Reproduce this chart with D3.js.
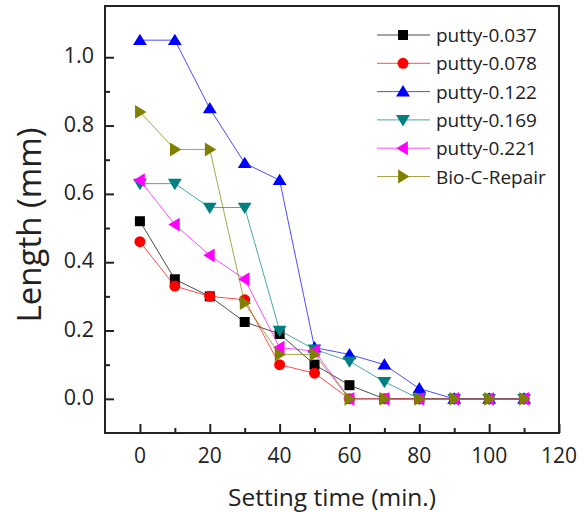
<!DOCTYPE html>
<html>
<head>
<meta charset="utf-8">
<script src="https://cdn.jsdelivr.net/npm/d3@7"></script>
<style>
  body { margin: 0; background: #fff; }
  text { font-family: "Open Sans", sans-serif; fill: #222; }
</style>
</head>
<body>
<div id="myChart"></div>
<script>
// setting time (min.)
var times = [0, 10, 20, 30, 40, 50, 60, 70, 80, 90, 100, 110];

// length (mm) per series
var putty037 = [0.52, 0.35, 0.30, 0.225, 0.19, 0.10, 0.04, 0, 0, 0, 0, 0];
var putty078 = [0.46, 0.33, 0.30, 0.29, 0.10, 0.075, 0, 0, 0, 0, 0, 0];
var putty122 = [1.05, 1.05, 0.85, 0.69, 0.64, 0.15, 0.13, 0.10, 0.03, 0, 0, 0];
var putty169 = [0.63, 0.63, 0.56, 0.56, 0.20, 0.145, 0.11, 0.05, 0, 0, 0, 0];
var putty221 = [0.64, 0.51, 0.42, 0.35, 0.15, 0.14, 0, 0, 0, 0, 0, 0];
var bioC = [0.84, 0.73, 0.73, 0.28, 0.13, 0.13, 0, 0, 0, 0, 0, 0];

var seriesNames = ["putty-0.037", "putty-0.078", "putty-0.122", "putty-0.169", "putty-0.221", "Bio-C-Repair"];
var seriesValues = [putty037, putty078, putty122, putty169, putty221, bioC];
var seriesColors = ["#000000", "#ff0000", "#0000ff", "#008080", "#ff00ff", "#808000"];
var seriesShapes = ["square", "circle", "up", "down", "left", "right"];

var xTicks = [0, 20, 40, 60, 80, 100, 120];
var yTicks = [0.0, 0.2, 0.4, 0.6, 0.8, 1.0];

var W = 584, H = 512;
var pLeft = 105, pRight = 559, pTop = 6, pBottom = 433;

var svg = d3.select("#myChart")
    .append("svg")
    .attr("width", W).attr("height", H);

var x = d3.scaleLinear().domain([-10, 120]).range([pLeft, pRight]);
var y = d3.scaleLinear().domain([-0.1, 1.15]).range([pBottom, pTop]);

// marker path, centred on 0,0
function marker(shape, s) {
    var h = s / 2;
    if (shape == "square") return "M" + (-h) + "," + (-h) + "h" + s + "v" + s + "h" + (-s) + "Z";
    if (shape == "circle") return d3.symbol().type(d3.symbolCircle).size(Math.PI * h * h)();
    var t = s * 0.62;
    if (shape == "up") return "M0," + (-t) + "L" + (s * 0.66) + "," + (t * 0.75) + "L" + (-s * 0.66) + "," + (t * 0.75) + "Z";
    if (shape == "down") return "M0," + t + "L" + (s * 0.66) + "," + (-t * 0.75) + "L" + (-s * 0.66) + "," + (-t * 0.75) + "Z";
    if (shape == "left") return "M" + (-t) + ",0L" + (t * 0.75) + "," + (-s * 0.66) + "L" + (t * 0.75) + "," + (s * 0.66) + "Z";
    if (shape == "right") return "M" + t + ",0L" + (-t * 0.75) + "," + (-s * 0.66) + "L" + (-t * 0.75) + "," + (s * 0.66) + "Z";
}
var sizes = { square: 10, circle: 11, up: 10.5, down: 10.5, left: 10.5, right: 10.5 };

// series
var line = d3.line().x(function(d) { return x(d[0]); }).y(function(d) { return y(d[1]); });

seriesValues.forEach(function(vals, i) {
    var pts = times.map(function(t, j) { return [t, vals[j]]; });
    var g = svg.append("g");
    g.append("path")
        .attr("d", line(pts))
        .attr("fill", "none")
        .attr("stroke", seriesColors[i])
        .attr("stroke-opacity", 0.7)
        .attr("stroke-width", 1);
    g.selectAll("path.m")
        .data(pts)
        .enter().append("path")
        .attr("class", "m")
        .attr("transform", function(d) { return "translate(" + x(d[0]) + "," + y(d[1]) + ")"; })
        .attr("d", marker(seriesShapes[i], sizes[seriesShapes[i]]))
        .attr("fill", seriesColors[i]);
});

// frame
svg.append("rect")
    .attr("x", pLeft).attr("y", pTop)
    .attr("width", pRight - pLeft).attr("height", pBottom - pTop)
    .attr("fill", "none").attr("stroke", "#222").attr("stroke-width", 2);

// ticks (inside)
var xAxis = d3.axisBottom(x).tickValues(d3.range(0, 121, 10)).tickSize(-9).tickFormat("");
svg.append("g").attr("transform", "translate(0," + pBottom + ")").call(xAxis)
    .call(function(g) {
        g.select(".domain").remove();
        g.selectAll(".tick line").attr("stroke", "#222").attr("stroke-width", 2)
            .attr("y2", function(d) { return d % 20 == 0 ? -9 : -5; });
    });
var yAxis = d3.axisLeft(y).tickValues(d3.range(0, 11).map(function(d) { return d / 10; })).tickSize(-9).tickFormat("");
svg.append("g").attr("transform", "translate(" + pLeft + ",0)").call(yAxis)
    .call(function(g) {
        g.select(".domain").remove();
        g.selectAll(".tick line").attr("stroke", "#222").attr("stroke-width", 2)
            .attr("x2", function(d) { return Math.round(d * 10) % 2 == 0 ? 9 : 5; });
    });

// tick labels
svg.selectAll("text.xl")
    .data(xTicks)
    .enter().append("text")
    .attr("x", function(d) { return x(d); })
    .attr("y", 463)
    .attr("text-anchor", "middle")
    .attr("font-size", 21)
    .text(function(d) { return d; });
svg.selectAll("text.yl")
    .data(yTicks)
    .enter().append("text")
    .attr("x", 94)
    .attr("y", function(d) { return y(d) + 6; })
    .attr("text-anchor", "end")
    .attr("font-size", 21.5)
    .text(function(d) { return d.toFixed(1); });

// axis titles
svg.append("text")
    .attr("x", x(55)).attr("y", 506)
    .attr("text-anchor", "middle")
    .attr("font-size", 24.5)
    .text("Setting time (min.)");
svg.append("text")
    .attr("transform", "translate(41,225) rotate(-90)")
    .attr("text-anchor", "middle")
    .attr("font-size", 33)
    .text("Length (mm)");

// legend
var legend = svg.append("g");
seriesNames.forEach(function(name, i) {
    var ly = 35 + i * 28.3;
    legend.append("line")
        .attr("x1", 377).attr("x2", 430).attr("y1", ly).attr("y2", ly)
        .attr("stroke", seriesColors[i]).attr("stroke-opacity", 0.7).attr("stroke-width", 1);
    legend.append("path")
        .attr("transform", "translate(403," + ly + ")")
        .attr("d", marker(seriesShapes[i], sizes[seriesShapes[i]]))
        .attr("fill", seriesColors[i]);
    legend.append("text")
        .attr("x", 436).attr("y", ly + 7)
        .attr("font-size", 19)
        .text(name);
});
</script>
</body>
</html>
